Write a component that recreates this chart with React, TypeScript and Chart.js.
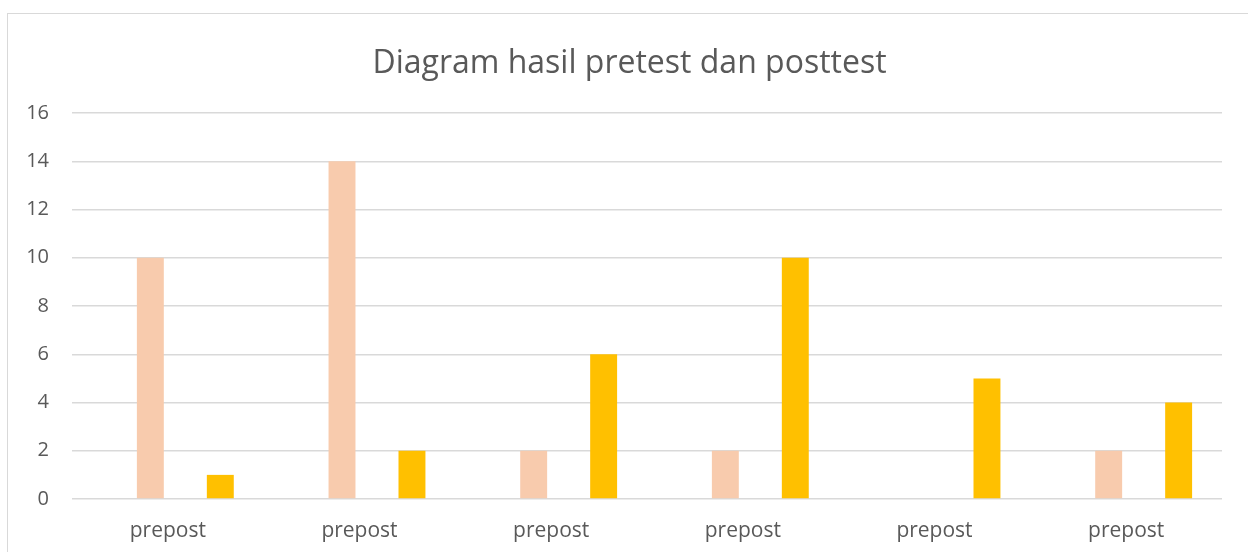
import React, { useEffect, useRef } from "react";
import { Chart, registerables } from "chart.js";

Chart.register(...registerables);

const categories = ["prepost", "prepost", "prepost", "prepost", "prepost", "prepost"];
const emptySeriesA: (number | null)[] = [null, null, null, null, null, null];
const pretestValues: (number | null)[] = [10, 14, 2, 2, 0, 2];
const emptySeriesB: (number | null)[] = [null, null, null, null, null, null];
const posttestValues: (number | null)[] = [1, 2, 6, 10, 5, 4];
const yTicks = { min: 0, max: 16, step: 2 };
const titleText = "Diagram hasil pretest dan posttest";

const FONT = "'Open Sans', 'Noto Sans', sans-serif";
const TEXT = "#595959";
const GRID = "#d9d9d9";

export default function App() {
  const ref = useRef<HTMLCanvasElement | null>(null);
  useEffect(() => {
    if (!ref.current) return;
    const chart = new Chart(ref.current, {
      type: "bar",
      data: {
        labels: categories,
        datasets: [
          { label: "s1", data: emptySeriesA, backgroundColor: "#ffffff" },
          { label: "Pretest", data: pretestValues, backgroundColor: "#F8CBAD" },
          { label: "s3", data: emptySeriesB, backgroundColor: "#ffffff" },
          { label: "Posttest", data: posttestValues, backgroundColor: "#FFC000" },
        ],
      },
      options: {
        responsive: false,
        animation: false,
        datasets: { bar: { categoryPercentage: 0.73, barPercentage: 0.77 } },
        layout: { padding: { left: 0, right: 26, top: 113, bottom: 0 } },
        plugins: {
          legend: { display: false },
          tooltip: { enabled: false },
          title: { display: false },
        },
        scales: {
          x: {
            grid: { display: false, drawTicks: false },
            border: { display: false },
            ticks: { color: TEXT, font: { family: FONT, size: 21 }, padding: 19 },
            afterFit: (s: any) => { s.height = 53; },
          },
          y: {
            min: yTicks.min,
            max: yTicks.max,
            grid: { color: GRID, lineWidth: 1.5, drawTicks: false },
            border: { display: false },
            ticks: { stepSize: yTicks.step, color: TEXT, font: { family: FONT, size: 20 }, padding: 23 },
            afterFit: (s: any) => { s.width = 72; },
          },
        },
      },
    });
    return () => chart.destroy();
  }, []);
  return (
    <div style={{ position: "fixed", left: 0, top: 0, width: 1248, height: 552, overflow: "hidden", background: "#fff" }}>
      <div style={{ position: "absolute", left: 7, top: 13, width: 1300, height: 600, border: "1.5px solid #d9d9d9", boxSizing: "border-box" }} />
      <canvas ref={ref} width={1248} height={552} style={{ position: "absolute", left: 0, top: 0 }} />
      <div style={{ position: "absolute", left: 0, top: 42, width: 1259, height: 38.4, lineHeight: "38.4px", textAlign: "center", fontFamily: FONT, fontSize: 32, color: TEXT, whiteSpace: "nowrap" }}>
        {titleText}
      </div>
    </div>
  );
}
